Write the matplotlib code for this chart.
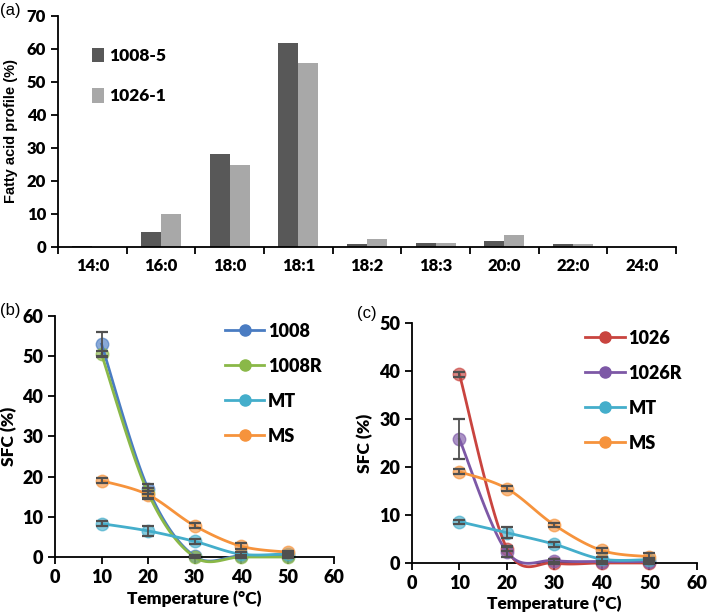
import numpy as np
import matplotlib
matplotlib.use('Agg')
import matplotlib.pyplot as plt
from matplotlib.lines import Line2D

# ---------------- data ----------------
acids = ['14:0', '16:0', '18:0', '18:1', '18:2', '18:3', '20:0', '22:0', '24:0']
fa_1008_5 = [0.2, 4.6, 28.2, 61.7, 0.8, 1.3, 1.9, 0.8, 0.1]
fa_1026_1 = [0.1, 10.1, 24.9, 55.7, 2.4, 1.3, 3.5, 0.8, 0.1]

temps = [10, 20, 30, 40, 50]
sfc_1008 = [53.0, 17.0, 0.2, 0.3, 0.3]
err_1008 = [3.0, 1.2, 0.3, 0.3, 0.3]
sfc_1008R = [50.5, 16.0, 0.0, 0.0, 0.0]
err_1008R = [0.8, 1.2, 0.2, 0.2, 0.2]
sfc_MT_b = [8.3, 6.5, 3.9, 0.7, 0.8]
err_MT_b = [0.6, 1.2, 0.6, 0.5, 0.3]
sfc_MS_b = [19.0, 15.5, 7.8, 2.7, 1.2]
err_MS_b = [0.6, 1.0, 0.6, 0.8, 0.4]

sfc_1026 = [39.3, 3.0, 0.0, 0.0, 0.0]
err_1026 = [0.5, 0.5, 0.2, 0.2, 0.2]
sfc_1026R = [25.8, 2.3, 0.5, 0.3, 0.3]
err_1026R = [4.2, 1.0, 0.3, 0.2, 0.2]
sfc_MT_c = [8.6, 6.3, 3.9, 0.8, 0.7]
err_MT_c = [0.4, 1.2, 0.5, 0.5, 0.4]
sfc_MS_c = [19.0, 15.5, 7.9, 2.6, 1.3]
err_MS_c = [0.5, 0.6, 0.5, 0.6, 0.7]

BLUE, GREEN, TEAL, ORANGE = '#4a7cc2', '#8ab848', '#44aecb', '#f6933c'
RED, PURPLE = '#c9443f', '#7d58a6'
ERR = '#505050'
W = 'heavy'

plt.rcParams['font.family'] = ['Lato', 'DejaVu Sans']
plt.rcParams['font.weight'] = W
plt.rcParams['axes.labelweight'] = W


def smooth(x, y, n=30):
    # Excel-like smoothed line (cubic bezier through points)
    p = np.column_stack([x, y]).astype(float)
    out = []
    for i in range(len(p) - 1):
        p0 = p[i - 1] if i > 0 else p[i]
        p1, p2 = p[i], p[i + 1]
        p3 = p[i + 2] if i + 2 < len(p) else p[i + 1]
        c1 = p1 + (p2 - p0) / 6
        c2 = p2 - (p3 - p1) / 6
        t = np.linspace(0, 1, n)[:, None]
        seg = (1 - t)**3 * p1 + 3 * (1 - t)**2 * t * c1 + 3 * (1 - t) * t**2 * c2 + t**3 * p2
        out.append(seg if i == 0 else seg[1:])
    s = np.vstack(out)
    return s[:, 0], s[:, 1]


def style_axes(ax):
    for s in ['top', 'right']:
        ax.spines[s].set_visible(False)
    for s in ['left', 'bottom']:
        ax.spines[s].set_linewidth(1.3)
        ax.spines[s].set_color('black')
    ax.tick_params(direction='out', length=5, width=1.3)


fig = plt.figure(figsize=(7.09, 6.15), dpi=100)

# ---------------- (a) ----------------
ax = fig.add_axes([0.0818, 0.5984, 0.8717, 0.3756])
x = np.arange(len(acids))
w = 0.29
ax.bar(x - w / 2, fa_1008_5, w, color='#585858', label='1008-5')
ax.bar(x + w / 2, fa_1026_1, w, color='#a8a8a8', label='1026-1')
ax.set_xlim(-0.5, len(acids) - 0.5)
ax.set_ylim(0, 70)
yt = list(range(0, 71, 10))
ax.set_yticks(yt)
ax.set_yticklabels([str(v) for v in yt], fontsize=12, fontweight=W)
ax.set_xticks(x)
ax.set_xticklabels(acids, fontsize=12, fontweight=W)
ax.set_xticks(np.arange(-0.5, len(acids)), minor=True)
style_axes(ax)
ax.tick_params(axis='x', which='major', length=0, pad=8)
ax.tick_params(axis='x', which='minor', length=5, width=1.3)
ax.set_ylabel('Fatty acid profile (%)', fontsize=10.5, family='Liberation Sans',
              fontweight='bold', labelpad=6)
ax.legend(loc='upper left', bbox_to_anchor=(0.03, 0.93), frameon=False,
          handlelength=0.7, handleheight=0.9, labelspacing=1.4, handletextpad=0.3,
          fontsize=12.5)


def sfc_panel(ax, series, ymax):
    for y, e, c, lab in series:
        xs, ys = smooth(temps, y)
        ax.plot(xs, ys, color=c, lw=2.0, clip_on=False, zorder=3)
        ax.plot(temps, y, 'o', ms=9, color=c, alpha=0.65, mec=c, clip_on=False, zorder=2)
        ax.errorbar(temps, y, yerr=e, fmt='none', ecolor=ERR, elinewidth=1.3,
                    capsize=4, capthick=1.6, clip_on=False, zorder=4)
    handles = [Line2D([0], [0], color=c, lw=2.0, marker='o', ms=8) for _, _, c, _ in series]
    labels = [lab for _, _, _, lab in series]
    ax.legend(handles, labels, loc='upper left', bbox_to_anchor=(0.55, 1.04), frameon=False,
              handlelength=2.2, labelspacing=1.0, handletextpad=0.2, fontsize=13)
    ax.set_xlim(0, 60)
    ax.set_ylim(0, ymax)
    xt = list(range(0, 61, 10))
    yt = list(range(0, ymax + 1, 10))
    ax.set_xticks(xt)
    ax.set_xticklabels([str(v) for v in xt], fontsize=13, fontweight=W)
    ax.set_yticks(yt)
    ax.set_yticklabels([str(v) for v in yt], fontsize=13, fontweight=W)
    style_axes(ax)
    ax.set_xlabel('Temperature (°C)', fontsize=12.5, labelpad=3)
    ax.set_ylabel('SFC (%)', fontsize=12.5, labelpad=4)


# ---------------- (b) ----------------
axb = fig.add_axes([0.0776, 0.0943, 0.3935, 0.3919])
sfc_panel(axb, [(sfc_1008, err_1008, BLUE, '1008'),
                (sfc_1008R, err_1008R, GREEN, '1008R'),
                (sfc_MT_b, err_MT_b, TEAL, 'MT'),
                (sfc_MS_b, err_MS_b, ORANGE, 'MS')], 60)

# ---------------- (c) ----------------
axc = fig.add_axes([0.581, 0.0846, 0.402, 0.3902])
sfc_panel(axc, [(sfc_1026, err_1026, RED, '1026'),
                (sfc_1026R, err_1026R, PURPLE, '1026R'),
                (sfc_MT_c, err_MT_c, TEAL, 'MT'),
                (sfc_MS_c, err_MS_c, ORANGE, 'MS')], 50)

for lab, xx, yy in [('(a)', 0.0, 0.995), ('(b)', 0.0, 0.508), ('(c)', 0.503, 0.503)]:
    fig.text(xx, yy, lab, family='Liberation Sans', fontweight='normal', fontsize=12,
             va='top', ha='left')

fig.savefig('out.png', dpi=100)
